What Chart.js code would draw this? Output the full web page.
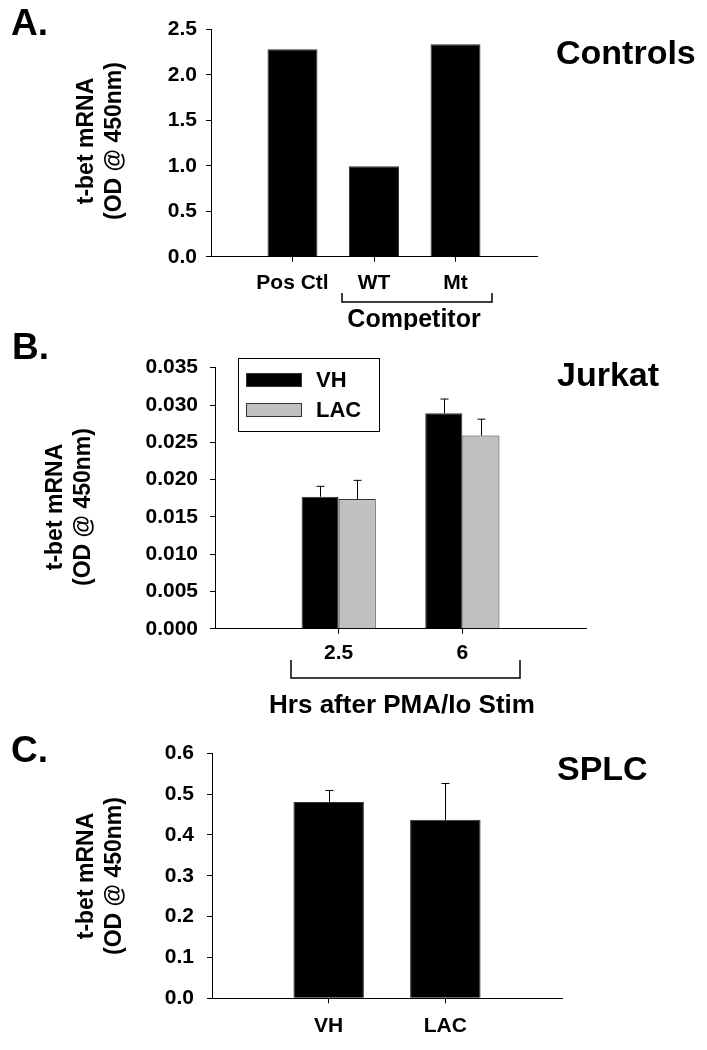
<!DOCTYPE html>
<html>
<head>
<meta charset="utf-8">
<script src="https://cdn.jsdelivr.net/npm/chart.js@4.4.1/dist/chart.umd.min.js"></script>
<style>
  html, body { margin: 0; padding: 0; background: #fff; }
  body { width: 707px; height: 1050px; overflow: hidden; position: relative; }
  canvas { position: absolute; left: 0; }
</style>
</head>
<body>
<canvas id="cA" width="707" height="330" style="top:0px;width:707px;height:330px"></canvas>
<canvas id="cB" width="707" height="390" style="top:330px;width:707px;height:390px"></canvas>
<canvas id="cC" width="707" height="330" style="top:720px;width:707px;height:330px"></canvas>
<script>
// ---------- data ----------
const ctlCategories = ['Pos Ctl', 'WT', 'Mt'];
const ctlValues = [2.28, 0.995, 2.335];
const ctlYTicks = [0, 0.5, 1.0, 1.5, 2.0, 2.5];

const jurkatHours = ['2.5', '6'];
const jurkatVH = [0.0177, 0.0289];
const jurkatLAC = [0.0174, 0.0259];
const jurkatVHErr = [0.0014, 0.0019];
const jurkatLACErr = [0.0025, 0.0022];
const jurkatYTicks = [0, 0.005, 0.010, 0.015, 0.020, 0.025, 0.030, 0.035];

const splcGroups = ['VH', 'LAC'];
const splcValues = [0.481, 0.437];
const splcErr = [0.028, 0.089];
const splcYTicks = [0, 0.1, 0.2, 0.3, 0.4, 0.5, 0.6];

// ---------- helpers ----------
const W0 = 707;
const F = "'Liberation Sans', Arial, Helvetica, sans-serif";
const pad = arr => [null].concat(arr, [null]);
const padL = arr => [''].concat(arr, ['']);

function annotPlugin(cfg) {
  return {
    id: 'annot',
    afterDatasetsDraw(chart) {
      const ctx = chart.ctx, y = chart.scales.y;
      ctx.save();
      ctx.strokeStyle = '#000';
      ctx.lineWidth = 1;
      (cfg.errors || []).forEach((errArr, di) => {
        const meta = chart.getDatasetMeta(di);
        const data = chart.data.datasets[di].data;
        meta.data.forEach((el, i) => {
          const v = data[i], e = errArr[i];
          if (v == null || e == null) return;
          const yt = y.getPixelForValue(v + e);
          const x = Math.round(el.x) + 0.5;
          ctx.beginPath();
          ctx.moveTo(x, el.y); ctx.lineTo(x, yt);
          ctx.moveTo(x - 4, yt); ctx.lineTo(x + 4, yt);
          ctx.stroke();
        });
      });
      ctx.restore();
    },
    afterDraw(chart) {
      const ctx = chart.ctx;
      ctx.save();
      ctx.fillStyle = '#000';
      ctx.strokeStyle = '#000';
      ctx.textBaseline = 'middle';
      // panel letter
      ctx.font = 'bold 37px ' + F;
      ctx.textAlign = 'left';
      ctx.fillText(cfg.letter.text, cfg.letter.x, cfg.letter.y);
      // side label
      ctx.font = 'bold 34px ' + F;
      ctx.fillText(cfg.side.text, cfg.side.x, cfg.side.y);
      // y title
      ctx.save();
      ctx.translate(cfg.ytitle.x, cfg.ytitle.y);
      ctx.rotate(-Math.PI / 2);
      ctx.font = 'bold 23px ' + F;
      ctx.textAlign = 'center';
      const d = cfg.ytitle.d;
      ctx.fillText('t-bet mRNA', 0, -d / 2);
      ctx.fillText('(OD @ 450nm)', 0, d / 2);
      ctx.restore();
      // bracket
      if (cfg.bracket) {
        const b = cfg.bracket;
        ctx.lineWidth = 1.5;
        ctx.beginPath();
        ctx.moveTo(b.x1, b.top); ctx.lineTo(b.x1, b.bottom);
        ctx.lineTo(b.x2, b.bottom); ctx.lineTo(b.x2, b.top);
        ctx.stroke();
      }
      // x title
      if (cfg.xtitle) {
        ctx.font = 'bold ' + cfg.xtitle.size + 'px ' + F;
        ctx.textAlign = 'center';
        ctx.fillText(cfg.xtitle.text, cfg.xtitle.x, cfg.xtitle.y);
      }
      // legend
      if (cfg.legend) {
        const L = cfg.legend;
        ctx.lineWidth = 1;
        ctx.strokeStyle = '#000';
        ctx.strokeRect(L.x1 + 0.5, L.y1 + 0.5, L.x2 - L.x1, L.y2 - L.y1);
        ctx.font = 'bold 22px ' + F;
        ctx.textAlign = 'left';
        chart.data.datasets.forEach((ds, i) => {
          const it = L.items[i];
          ctx.fillStyle = ds.backgroundColor;
          ctx.fillRect(L.sx1, it.sy, L.sx2 - L.sx1, it.sh);
          ctx.strokeStyle = '#333';
          ctx.strokeRect(L.sx1 + 0.5, it.sy + 0.5, L.sx2 - L.sx1 - 1, it.sh - 1);
          ctx.fillStyle = '#000';
          ctx.fillText(ds.label, L.tx, it.ty);
        });
      }
      ctx.restore();
    }
  };
}

function makeOptions(p) {
  const nLabels = p.nLabels;
  return {
    responsive: false,
    animation: false,
    layout: { padding: { left: 0, right: W0 - p.plotRight, top: p.plotTop, bottom: 0 } },
    plugins: { legend: { display: false }, tooltip: { enabled: false }, title: { display: false } },
    scales: {
      x: {
        type: 'category',
        offset: false,
        grid: {
          display: true, offset: false, drawOnChartArea: false, drawTicks: true, tickLength: 5, lineWidth: 1,
          tickColor: c => (c.index === 0 || c.index === nLabels - 1) ? 'rgba(0,0,0,0)' : '#000'
        },
        border: { display: true, color: '#000', width: 1 },
        ticks: { color: '#000', font: { family: F, weight: 'bold', size: 21 }, padding: p.xPad, maxRotation: 0, minRotation: 0, autoSkip: false },
        afterFit(s) { s.height = p.height - p.plotBottom; }
      },
      y: {
        min: 0, max: p.yTicks[p.yTicks.length - 1],
        grid: { display: true, drawOnChartArea: false, drawTicks: true, tickLength: 5, tickColor: '#000', lineWidth: 1 },
        border: { display: true, color: '#000', width: 1 },
        ticks: { color: '#000', font: { family: F, weight: 'bold', size: 21 }, padding: p.yPad, callback: v => Number(v).toFixed(p.dec) },
        afterBuildTicks(s) { s.ticks = p.yTicks.map(v => ({ value: v })); },
        afterFit(s) { s.width = p.plotLeft; }
      }
    }
  };
}

// ---------- Panel A ----------
new Chart(document.getElementById('cA'), {
  type: 'bar',
  data: {
    labels: padL(ctlCategories),
    datasets: [{
      label: 'Controls', data: pad(ctlValues),
      backgroundColor: '#000', borderColor: '#333', borderWidth: 1,
      barPercentage: 1, categoryPercentage: 0.613
    }]
  },
  options: makeOptions({ nLabels: 5, height: 330, plotLeft: 211, plotRight: 537, plotTop: 29.3, plotBottom: 256.8, xPad: 8.5, yPad: 9, yTicks: ctlYTicks, dec: 1 }),
  plugins: [annotPlugin({
    letter: { text: 'A.', x: 11, y: 25 },
    side: { text: 'Controls', x: 556, y: 55 },
    ytitle: { x: 101, y: 141, d: 28 },
    bracket: { x1: 342, x2: 492, top: 293, bottom: 302 },
    xtitle: { text: 'Competitor', x: 414, y: 320, size: 25 }
  })]
});

// ---------- Panel B ----------
new Chart(document.getElementById('cB'), {
  type: 'bar',
  data: {
    labels: padL(jurkatHours),
    datasets: [
      { label: 'VH', data: pad(jurkatVH), backgroundColor: '#000', borderColor: '#333', borderWidth: 1, barPercentage: 1, categoryPercentage: 0.6 },
      { label: 'LAC', data: pad(jurkatLAC), backgroundColor: '#c0c0c0', borderColor: '#333', borderWidth: 1, barPercentage: 1, categoryPercentage: 0.6 }
    ]
  },
  options: makeOptions({ nLabels: 4, height: 390, plotLeft: 215, plotRight: 586, plotTop: 37.7, plotBottom: 298.8, xPad: 6.5, yPad: 12, yTicks: jurkatYTicks, dec: 3 }),
  plugins: [annotPlugin({
    errors: [pad(jurkatVHErr), pad(jurkatLACErr)],
    letter: { text: 'B.', x: 12, y: 19 },
    side: { text: 'Jurkat', x: 557, y: 47 },
    ytitle: { x: 70, y: 177, d: 28 },
    bracket: { x1: 291, x2: 520, top: 330, bottom: 348 },
    xtitle: { text: 'Hrs after PMA/Io Stim', x: 402, y: 376, size: 26 },
    legend: { x1: 238, x2: 379, y1: 28, y2: 101, sx1: 246, sx2: 302, tx: 316,
      items: [{ sy: 43, sh: 14, ty: 51 }, { sy: 73, sh: 14, ty: 81 }] }
  })]
});

// ---------- Panel C ----------
new Chart(document.getElementById('cC'), {
  type: 'bar',
  data: {
    labels: padL(splcGroups),
    datasets: [{
      label: 'SPLC', data: pad(splcValues),
      backgroundColor: '#000', borderColor: '#333', borderWidth: 1,
      barPercentage: 1, categoryPercentage: 0.604
    }]
  },
  options: makeOptions({ nLabels: 4, height: 330, plotLeft: 212, plotRight: 562, plotTop: 33.3, plotBottom: 278.3, xPad: 10.5, yPad: 13, yTicks: splcYTicks, dec: 1 }),
  plugins: [annotPlugin({
    errors: [pad(splcErr)],
    letter: { text: 'C.', x: 11, y: 32 },
    side: { text: 'SPLC', x: 557, y: 51 },
    ytitle: { x: 101, y: 156, d: 28 }
  })]
});
</script>
</body>
</html>
